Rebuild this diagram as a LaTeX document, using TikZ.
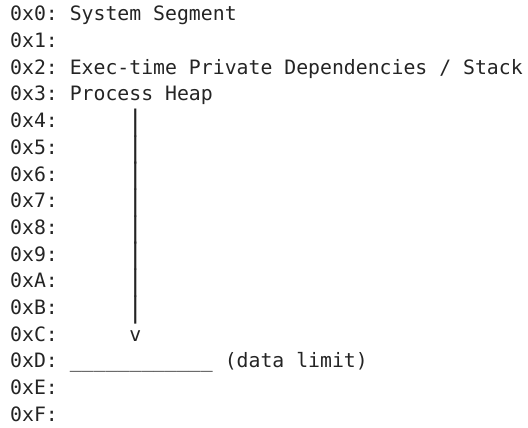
\documentclass[tikz,border=0pt]{standalone}
\usepackage{fontspec}
\usepackage{graphicx}
\newfontfamily\codefont{DejaVu Sans Mono}
\definecolor{ink}{rgb}{0.14,0.14,0.14}
\newcommand\vbar{\makebox[0.602em][c]{\raisebox{-2.8pt}{\scalebox{1.3}[1.42]{|}}}}
\begin{document}
\begin{tikzpicture}[x=1pt,y=1pt,
  codeline/.style={anchor=base west, inner sep=0pt, text=ink,
    font=\codefont\fontsize{19.8}{26.67}\selectfont\frenchspacing}]
\useasboundingbox (0,0) rectangle (528,-428);
\node[codeline] (l0) at (10,-21.00) {0x0: System Segment};
\node[codeline] (l1) at (10,-47.67) {0x1:};
\node[codeline] (l2) at (10,-74.33) {0x2: Exec-time Private Dependencies / Stack};
\node[codeline] (l3) at (10,-101.00) {0x3: Process Heap};
\node[codeline] (l4) at (10,-127.67) {0x4:~~~~~~\vbar};
\node[codeline] (l5) at (10,-154.33) {0x5:~~~~~~\vbar};
\node[codeline] (l6) at (10,-181.00) {0x6:~~~~~~\vbar};
\node[codeline] (l7) at (10,-207.67) {0x7:~~~~~~\vbar};
\node[codeline] (l8) at (10,-234.33) {0x8:~~~~~~\vbar};
\node[codeline] (l9) at (10,-261.00) {0x9:~~~~~~\vbar};
\node[codeline] (lA) at (10,-287.67) {0xA:~~~~~~\vbar};
\node[codeline] (lB) at (10,-314.33) {0xB:~~~~~~\vbar};
\node[codeline] (lC) at (10,-341.00) {0xC:~~~~~~v};
\node[codeline] (lD) at (10,-367.67) {0xD:~\_\_\_\_\_\_\_\_\_\_\_\_~(data limit)};
\node[codeline] (lE) at (10,-394.33) {0xE:};
\node[codeline] (lF) at (10,-421.00) {0xF:};
\end{tikzpicture}
\end{document}
